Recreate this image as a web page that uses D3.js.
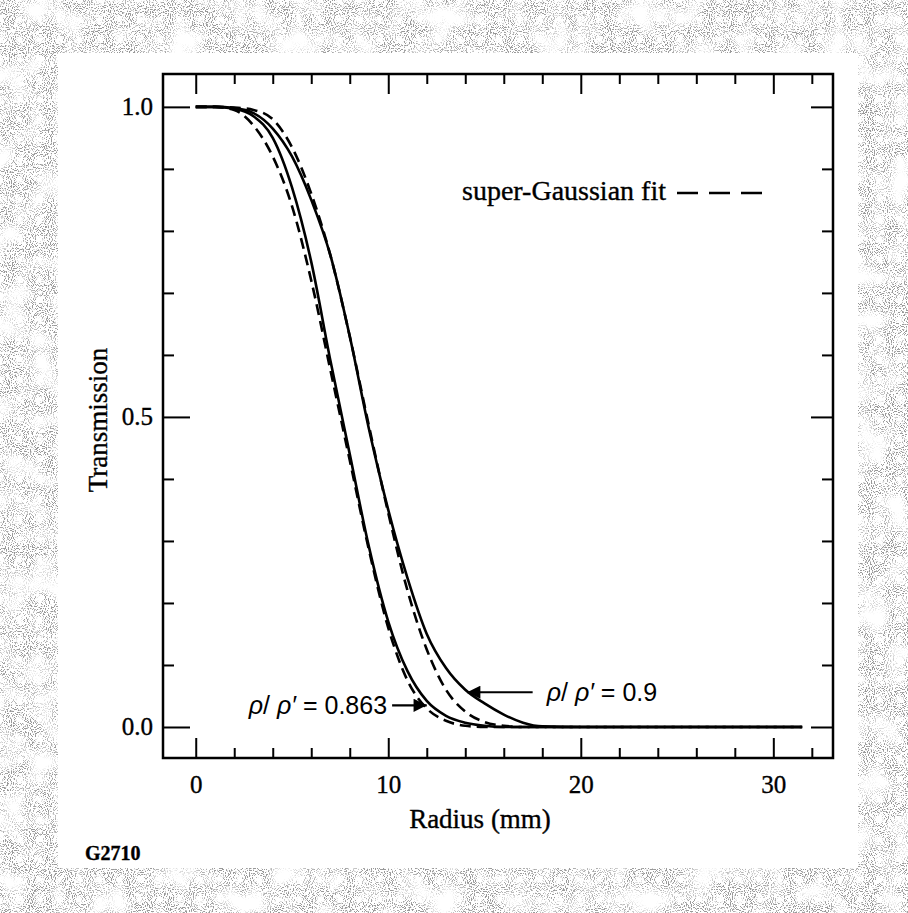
<!DOCTYPE html>
<html>
<head>
<meta charset="utf-8">
<script src="https://cdn.jsdelivr.net/npm/d3@7"></script>
<style>
  html, body { margin: 0; padding: 0; background: #fff; }
  svg { display: block; }
  .serif { font-family: "Liberation Serif", "Times New Roman", serif; fill: #000; stroke: #000; stroke-width: 0.35px; }
  .tick line { stroke: #000; stroke-width: 2; }
  .tick text { font-family: "Liberation Serif", "Times New Roman", serif; font-size: 25px; fill: #000; stroke: #000; stroke-width: 0.35px; }
</style>
</head>
<body>
<div id="chart"></div>
<script>
// radius (mm) sample points
const radius = [0, 1, 2, 3, 4, 5, 6, 7, 8, 9, 10, 11, 12, 13, 14, 15, 16, 17, 18, 20, 25, 31.5];

// measured transmission, rho/rho' = 0.863 (solid, inner curve)
const measured0863 = [1.0, 1.0, 0.997, 0.985, 0.95, 0.87, 0.75, 0.59, 0.44, 0.29, 0.17, 0.09, 0.042, 0.018, 0.007, 0.002, 0, 0, 0, 0, 0, 0];
// measured transmission, rho/rho' = 0.9 (solid, outer curve)
const measured09 = [1.0, 1.0, 0.998, 0.99, 0.965, 0.92, 0.85, 0.76, 0.63, 0.48, 0.35, 0.24, 0.15, 0.095, 0.06, 0.038, 0.02, 0.007, 0.001, 0, 0, 0];
// super-Gaussian fits (dashed)
const fit0863 = [1.0, 1.0, 0.995, 0.97, 0.92, 0.84, 0.72, 0.575, 0.43, 0.285, 0.16, 0.075, 0.03, 0.01, 0.002, 0, 0, 0, 0, 0, 0, 0];
const fit09 = [1.0, 1.0, 0.999, 0.995, 0.98, 0.935, 0.86, 0.76, 0.63, 0.485, 0.345, 0.22, 0.125, 0.06, 0.025, 0.008, 0.002, 0, 0, 0, 0, 0];

const xMajorTicks = [0, 10, 20, 30];
const xMinorTicks = [2, 4, 6, 8, 12, 14, 16, 18, 22, 24, 26, 28, 32];
const yMajorTicks = [0, 0.5, 1.0];
const yMinorTicks = [0.1, 0.2, 0.3, 0.4, 0.6, 0.7, 0.8, 0.9];

const width = 908;
const height = 913;
const plot = { left: 163, right: 833, top: 74, bottom: 758 };

const svg = d3.select('#chart')
  .append('svg')
  .attr('width', width)
  .attr('height', height);

// speckled grey paper border: fine dots masked by a blotchy coarse noise
const defs = svg.append('defs');
const grain = defs.append('filter')
  .attr('id', 'grain')
  .attr('filterUnits', 'userSpaceOnUse')
  .attr('color-interpolation-filters', 'sRGB')
  .attr('x', 0).attr('y', 0).attr('width', width).attr('height', height);
grain.append('feTurbulence')
  .attr('type', 'fractalNoise').attr('baseFrequency', 0.95).attr('numOctaves', 1).attr('seed', 3)
  .attr('result', 'fine');
grain.append('feColorMatrix')
  .attr('in', 'fine').attr('type', 'matrix')
  .attr('values', '0 0 0 0 0.6  0 0 0 0 0.6  0 0 0 0 0.6  12 0 0 0 -6.4')
  .attr('result', 'dots');
grain.append('feTurbulence')
  .attr('type', 'fractalNoise').attr('baseFrequency', 0.035).attr('numOctaves', 2).attr('seed', 11)
  .attr('result', 'coarse');
grain.append('feColorMatrix')
  .attr('in', 'coarse').attr('type', 'matrix')
  .attr('values', '0 0 0 0 0  0 0 0 0 0  0 0 0 0 0  3 0 0 0 -0.7')
  .attr('result', 'mask');
grain.append('feComposite')
  .attr('in', 'dots').attr('in2', 'mask').attr('operator', 'in');

svg.append('rect').attr('width', width).attr('height', height).attr('fill', '#fff');
svg.append('rect').attr('width', width).attr('height', height).attr('fill', '#fff').attr('filter', 'url(#grain)');
svg.append('rect')
  .attr('x', 58).attr('y', 53).attr('width', 800).attr('height', 815)
  .attr('fill', '#fff');

const x = d3.scaleLinear().domain([-1.7, 33.1]).range([plot.left, plot.right]);
const y = d3.scaleLinear().domain([-0.05, 1.053]).range([plot.bottom, plot.top]);

// axes: ticks point inward on all four sides
function addAxis(axis, tx, ty) {
  const g = svg.append('g').attr('transform', `translate(${tx},${ty})`).call(axis);
  g.select('.domain').remove();
  return g;
}

addAxis(d3.axisBottom(x).tickValues(xMajorTicks).tickSize(-20).tickPadding(17).tickFormat(d3.format('d')), 0, plot.bottom);
addAxis(d3.axisBottom(x).tickValues(xMinorTicks).tickSize(-10).tickFormat(''), 0, plot.bottom);
addAxis(d3.axisTop(x).tickValues(xMajorTicks).tickSize(-20).tickFormat(''), 0, plot.top);
addAxis(d3.axisTop(x).tickValues(xMinorTicks).tickSize(-10).tickFormat(''), 0, plot.top);

addAxis(d3.axisLeft(y).tickValues(yMajorTicks).tickSize(-27).tickPadding(10).tickFormat(d3.format('.1f')), plot.left, 0);
addAxis(d3.axisLeft(y).tickValues(yMinorTicks).tickSize(-11).tickFormat(''), plot.left, 0);
addAxis(d3.axisRight(y).tickValues(yMajorTicks).tickSize(-22).tickFormat(''), plot.right, 0);
addAxis(d3.axisRight(y).tickValues(yMinorTicks).tickSize(-11).tickFormat(''), plot.right, 0);

svg.append('rect')
  .attr('x', plot.left).attr('y', plot.top)
  .attr('width', plot.right - plot.left).attr('height', plot.bottom - plot.top)
  .attr('fill', 'none').attr('stroke', '#000').attr('stroke-width', 2.5);

// curves
const line = d3.line()
  .x(d => x(d[0]))
  .y(d => y(d[1]))
  .curve(d3.curveMonotoneX);

const series = [
  { values: measured0863, dash: null },
  { values: measured09, dash: null },
  { values: fit0863, dash: '11,6' },
  { values: fit09, dash: '11,6' }
];

series.forEach(s => {
  svg.append('path')
    .datum(radius.map((r, i) => [r, s.values[i]]))
    .attr('fill', 'none')
    .attr('stroke', '#000')
    .attr('stroke-width', 2.6)
    .attr('stroke-dasharray', s.dash)
    .attr('d', line);
});

// legend
svg.append('text')
  .attr('class', 'serif')
  .attr('x', 462).attr('y', 200)
  .attr('font-size', 28)
  .text('super-Gaussian fit');
svg.append('line')
  .attr('x1', 677).attr('x2', 767).attr('y1', 193).attr('y2', 193)
  .attr('stroke', '#000').attr('stroke-width', 2.5)
  .attr('stroke-dasharray', '21,11');

// annotations with arrows
defs.append('marker')
  .attr('id', 'arrow')
  .attr('viewBox', '0 0 10 10')
  .attr('refX', 10).attr('refY', 5)
  .attr('markerWidth', 9).attr('markerHeight', 6)
  .attr('markerUnits', 'strokeWidth')
  .attr('orient', 'auto')
  .append('path').attr('d', 'M0,0 L10,5 L0,10 Z').attr('fill', '#000');

const notes = [
  { ratio: '0.863', tail: [10.2, 0.035], tip: [12.0, 0.035], anchor: 'end' },
  { ratio: '0.9', tail: [17.5, 0.056], tip: [14.1, 0.056], anchor: 'start' }
];

notes.forEach(n => {
  svg.append('line')
    .attr('x1', x(n.tail[0])).attr('y1', y(n.tail[1]))
    .attr('x2', x(n.tip[0])).attr('y2', y(n.tip[1]))
    .attr('stroke', '#000').attr('stroke-width', 2.2)
    .attr('marker-end', 'url(#arrow)');
  const t = svg.append('text')
    .attr('x', x(n.tail[0]) + (n.anchor === 'end' ? -5 : 14))
    .attr('y', y(n.tail[1]) + 9)
    .attr('text-anchor', n.anchor)
    .attr('font-family', '"Liberation Sans", Arial, sans-serif')
    .attr('font-size', 25);
  t.append('tspan').attr('font-style', 'italic').text('ρ');
  t.append('tspan').text('/ ');
  t.append('tspan').attr('font-style', 'italic').text('ρ′');
  t.append('tspan').text(' = ' + n.ratio);
});

// axis titles
svg.append('text')
  .attr('class', 'serif')
  .attr('x', 480).attr('y', 828)
  .attr('text-anchor', 'middle')
  .attr('font-size', 27)
  .text('Radius (mm)');

svg.append('text')
  .attr('class', 'serif')
  .attr('transform', 'translate(107,420) rotate(-90)')
  .attr('text-anchor', 'middle')
  .attr('font-size', 27)
  .text('Transmission');

svg.append('text')
  .attr('class', 'serif')
  .attr('x', 85).attr('y', 860)
  .attr('font-size', 20)
  .attr('font-weight', 'bold')
  .text('G2710');
</script>
</body>
</html>
